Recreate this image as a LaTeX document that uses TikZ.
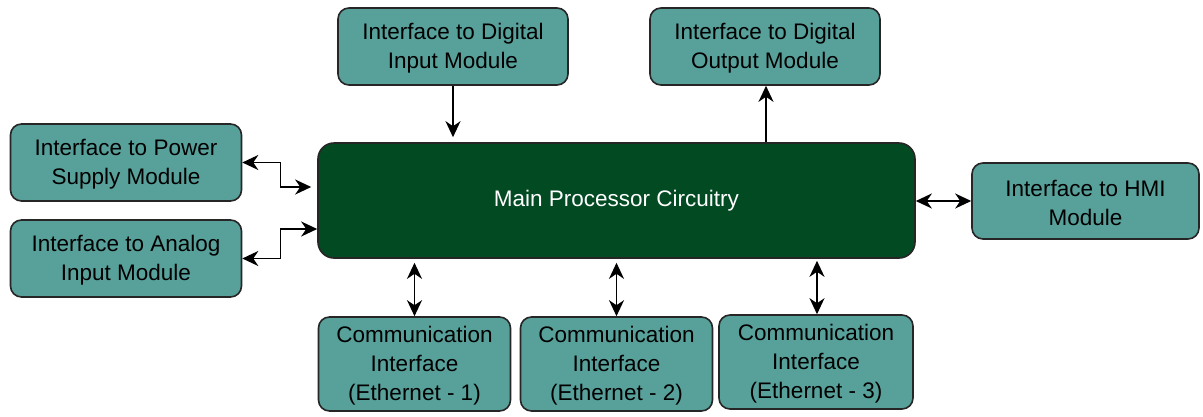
\documentclass[tikz,border=0pt]{standalone}
\usepackage{fontspec}
\setmainfont{Liberation Sans}
\usetikzlibrary{arrows.meta,calc}
\definecolor{tealbox}{RGB}{88,161,155}
\definecolor{darkgreenbox}{RGB}{2,74,34}
\newcommand{\topstrut}{\rule{0pt}{20pt}}
\begin{document}
\begin{tikzpicture}[x=1pt,y=-1pt,
  mod/.style={draw=black!85, line width=1.6pt, fill=tealbox, rounded corners=11pt,
    minimum width=#1, align=center, inner sep=0pt,
    font=\fontsize{22.5}{29}\selectfont},
  mod/.default=230pt,
  mainbox/.style={draw=black!85, line width=1.6pt, fill=darkgreenbox, rounded corners=16pt,
    minimum width=597pt, minimum height=115pt, text=white,
    font=\fontsize{22.5}{29}\selectfont},
  conn/.style={line width=1.6pt, draw=black},
  uni/.style={conn,-{Stealth[length=16pt,width=15pt,inset=5pt]}},
  bi/.style={conn,{Stealth[length=16pt,width=15pt,inset=5pt]}-{Stealth[length=16pt,width=15pt,inset=5pt]}}
]
\useasboundingbox (0,0) rectangle (1203,416);

\node[mainbox] (main) at (616.5,200.5) {\raisebox{-2pt}{Main Processor Circuitry}};

\node[mod=230pt, minimum height=77pt] (din) at (453,46.5) {\topstrut Interface to Digital\\Input Module};
\node[mod=230pt, minimum height=77pt] (dout) at (765,46.5) {\topstrut Interface to Digital\\Output Module};
\node[mod=231pt, minimum height=77pt] (pwr) at (126,162.5) {\topstrut Interface to Power\\Supply Module};
\node[mod=231pt, minimum height=77pt] (ana) at (126,258.5) {\topstrut Interface to Analog\\Input Module};
\node[mod=227pt, minimum height=76pt] (hmi) at (1085.5,201) {\topstrut Interface to HMI\\Module};
\node[mod=192pt, minimum height=94pt] (c1) at (414.5,364) {\topstrut Communication\\Interface\\(Ethernet - 1)};
\node[mod=192pt, minimum height=94pt] (c2) at (616.5,364) {\topstrut Communication\\Interface\\(Ethernet - 2)};
\node[mod=194pt, minimum height=94pt] (c3) at (816,362) {\topstrut Communication\\Interface\\(Ethernet - 3)};

% top connectors
\draw[uni, shorten >=5pt] (din.south) -- (din.south |- main.north);
\draw[uni] ([xshift=1pt]dout.south |- main.north) -- ([xshift=1pt]dout.south);

% left connectors
\draw[bi, shorten >=6pt] (pwr.east) -- ++(38,0) |- ([yshift=13.5pt]main.west);
\draw[bi] (ana.east) -- ++(38,0) |- ([yshift=-28.5pt]main.west);

% right connector
\draw[bi] (main.east |- hmi.west) -- (hmi.west);

% bottom connectors
\draw[bi, shorten <=4pt] (c1.north |- main.south) -- (c1.north);
\draw[bi, shorten <=4pt] (c2.north |- main.south) -- (c2.north);
\draw[bi, shorten <=2pt] ([xshift=1pt]c3.north |- main.south) -- ([xshift=1pt]c3.north);
\end{tikzpicture}
\end{document}
